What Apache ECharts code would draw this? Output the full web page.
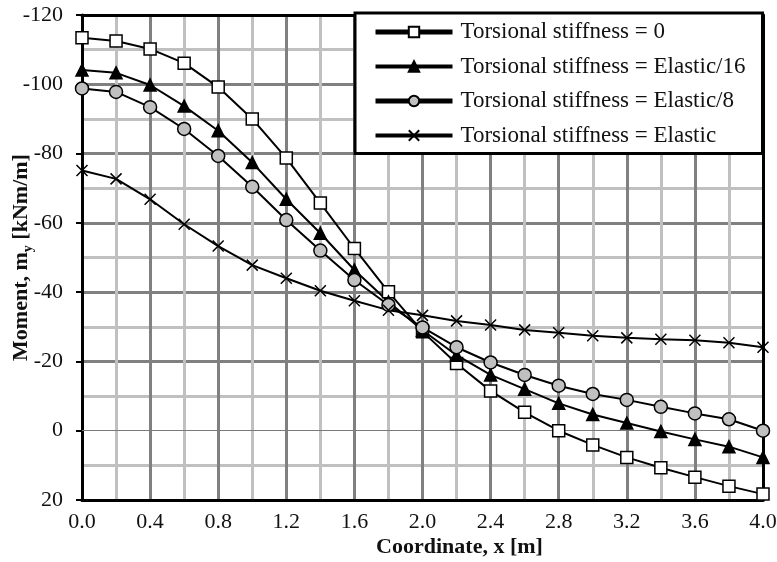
<!DOCTYPE html>
<html>
<head>
<meta charset="utf-8">
<script src="https://cdn.jsdelivr.net/npm/echarts@6/dist/echarts.min.js"></script>
<style>
  html, body { margin: 0; padding: 0; background: #fff; }
  #chart { width: 777px; height: 562px; }
</style>
</head>
<body>
<div id="chart"></div>
<script>
// coordinate along the strip, m
var xValues = [0.0, 0.2, 0.4, 0.6, 0.8, 1.0, 1.2, 1.4, 1.6, 1.8, 2.0,
               2.2, 2.4, 2.6, 2.8, 3.0, 3.2, 3.4, 3.6, 3.8, 4.0];

// moment m_y, kNm/m
var stiff0 = [-113.4, -112.5, -110.2, -106.1, -99.2, -90.0, -78.7, -65.7, -52.6, -40.1, -28.6,
              -19.4, -11.5, -5.3, 0.0, 4.1, 7.7, 10.7, 13.4, 16.0, 18.3];
var stiff16 = [-104.1, -103.3, -99.8, -93.7, -86.6, -77.4, -66.8, -57.0, -46.4, -37.2, -29.0,
               -21.8, -16.1, -12.0, -7.9, -4.7, -2.2, 0.2, 2.5, 4.6, 7.7];
var stiff8 = [-98.8, -97.8, -93.4, -87.1, -79.3, -70.4, -60.8, -52.0, -43.5, -36.3, -29.8,
              -24.1, -19.7, -16.1, -13.0, -10.6, -8.9, -6.9, -5.0, -3.3, 0.0];
var stiffEl = [-75.1, -72.7, -66.8, -59.6, -53.3, -47.8, -44.0, -40.4, -37.5, -34.8, -33.3,
               -31.7, -30.5, -29.1, -28.3, -27.4, -26.8, -26.4, -26.1, -25.4, -24.1];

var names = ['Torsional stiffness = 0', 'Torsional stiffness = Elastic/16',
             'Torsional stiffness = Elastic/8', 'Torsional stiffness = Elastic'];

var FONT = 'Liberation Serif, Times New Roman, serif';
var TXT = '#111';

function pairs(ys) {
    var out = [];
    for (var i = 0; i < xValues.length; i++) out.push([xValues[i], ys[i]]);
    return out;
}

function lineSeries(name, ys, symbol, size, fill) {
    return {
        name: name,
        type: 'line',
        data: pairs(ys),
        symbol: symbol,
        symbolSize: size,
        showAllSymbol: true,
        lineStyle: { color: '#000', width: 2 },
        itemStyle: { color: fill, borderColor: '#000', borderWidth: 1.5 },
        emphasis: { disabled: true },
        z: 5
    };
}

var myChart = echarts.init(document.getElementById('chart'), null, { renderer: 'canvas' });

var series = [
    lineSeries(names[0], stiff0, 'rect', 12, '#fff'),
    lineSeries(names[1], stiff16, 'triangle', 12, '#000'),
    lineSeries(names[2], stiff8, 'circle', 13, '#c0c0c0'),
    lineSeries(names[3], stiffEl, 'path://M0,0L10,10M10,0L0,10', 11, '#000')
];
// thin line at zero moment
series[0].markLine = {
    silent: true,
    symbol: 'none',
    label: { show: false },
    lineStyle: { color: '#7a7a7a', width: 1, type: 'solid' },
    data: [{ yAxis: 0 }]
};

// legend line thickness differs per entry in the original
var legendWidths = [5, 4, 5, 4];
var legendData = names.map(function (n, i) {
    return { name: n, lineStyle: { width: legendWidths[i] } };
});

var option = {
    animation: false,
    backgroundColor: '#fff',
    grid: { left: 82, top: 15, right: 14, bottom: 62, containLabel: false, outerBoundsMode: 'none' },
    legend: {
        data: legendData,
        orient: 'vertical',
        left: 355,
        top: 13,
        padding: [6, 17, 5, 18],
        itemWidth: 77,
        itemHeight: 13,
        itemGap: 8.5,
        backgroundColor: '#fff',
        borderColor: '#000',
        borderWidth: 3,
        borderRadius: 0,
        selectedMode: false,
        textStyle: { fontFamily: FONT, fontSize: 23, color: TXT, lineHeight: 26, padding: [0, 0, 0, 3] },
        z: 10
    },
    xAxis: [{
        type: 'value',
        min: 0,
        max: 4,
        interval: 0.4,
        position: 'bottom',
        name: 'Coordinate, x [m]',
        nameLocation: 'middle',
        nameGap: 36,
        nameMoveOverlap: false,
        nameTextStyle: { fontFamily: FONT, fontSize: 22, fontWeight: 'bold', color: TXT, padding: [0, 0, 0, 74] },
        axisLine: { onZero: false, lineStyle: { color: '#000', width: 3 } },
        axisTick: { show: false },
        axisLabel: {
            margin: 11, fontFamily: FONT, fontSize: 22, color: TXT,
            formatter: function (v) { return v.toFixed(1); }
        },
        splitLine: { show: true, lineStyle: { color: '#808080', width: 3 } },
        minorTick: { show: false, splitNumber: 2 },
        minorSplitLine: { show: true, lineStyle: { color: '#c0c0c0', width: 3 } }
    }, {
        type: 'value', min: 0, max: 4, position: 'top',
        axisLine: { onZero: false, lineStyle: { color: '#000', width: 3 } },
        axisTick: { show: false }, axisLabel: { show: false }, splitLine: { show: false }
    }],
    yAxis: [{
        type: 'value',
        inverse: true,
        min: -120,
        max: 20,
        interval: 20,
        position: 'left',
        name: '{a|Moment, m}{b|y}{a| [kNm/m]}',
        nameLocation: 'middle',
        nameGap: 47,
        nameMoveOverlap: false,
        nameTextStyle: {
            rich: {
                a: { fontFamily: FONT, fontSize: 22, fontWeight: 'bold', color: TXT, lineHeight: 28 },
                b: { fontFamily: FONT, fontSize: 14, fontWeight: 'bold', color: TXT, lineHeight: 28, verticalAlign: 'bottom' }
            }
        },
        axisLine: { onZero: false, lineStyle: { color: '#000', width: 3 } },
        axisTick: { show: true, inside: false, length: 6, lineStyle: { color: '#000', width: 2 } },
        axisLabel: { margin: 19, fontFamily: FONT, fontSize: 22, color: TXT },
        splitLine: {
            show: true,
            lineStyle: {
                color: ['#808080', '#808080', '#808080', '#808080', '#808080', '#808080', 'rgba(0,0,0,0)', '#808080'],
                width: 3
            }
        },
        minorTick: { show: false, splitNumber: 2 },
        minorSplitLine: { show: true, lineStyle: { color: '#c0c0c0', width: 3 } }
    }, {
        type: 'value', inverse: true, min: -120, max: 20, position: 'right',
        axisLine: { onZero: false, lineStyle: { color: '#000', width: 3 } },
        axisTick: { show: false }, axisLabel: { show: false }, splitLine: { show: false }
    }],
    series: series
};

if (option)
    myChart.setOption(option);
</script>
</body>
</html>
